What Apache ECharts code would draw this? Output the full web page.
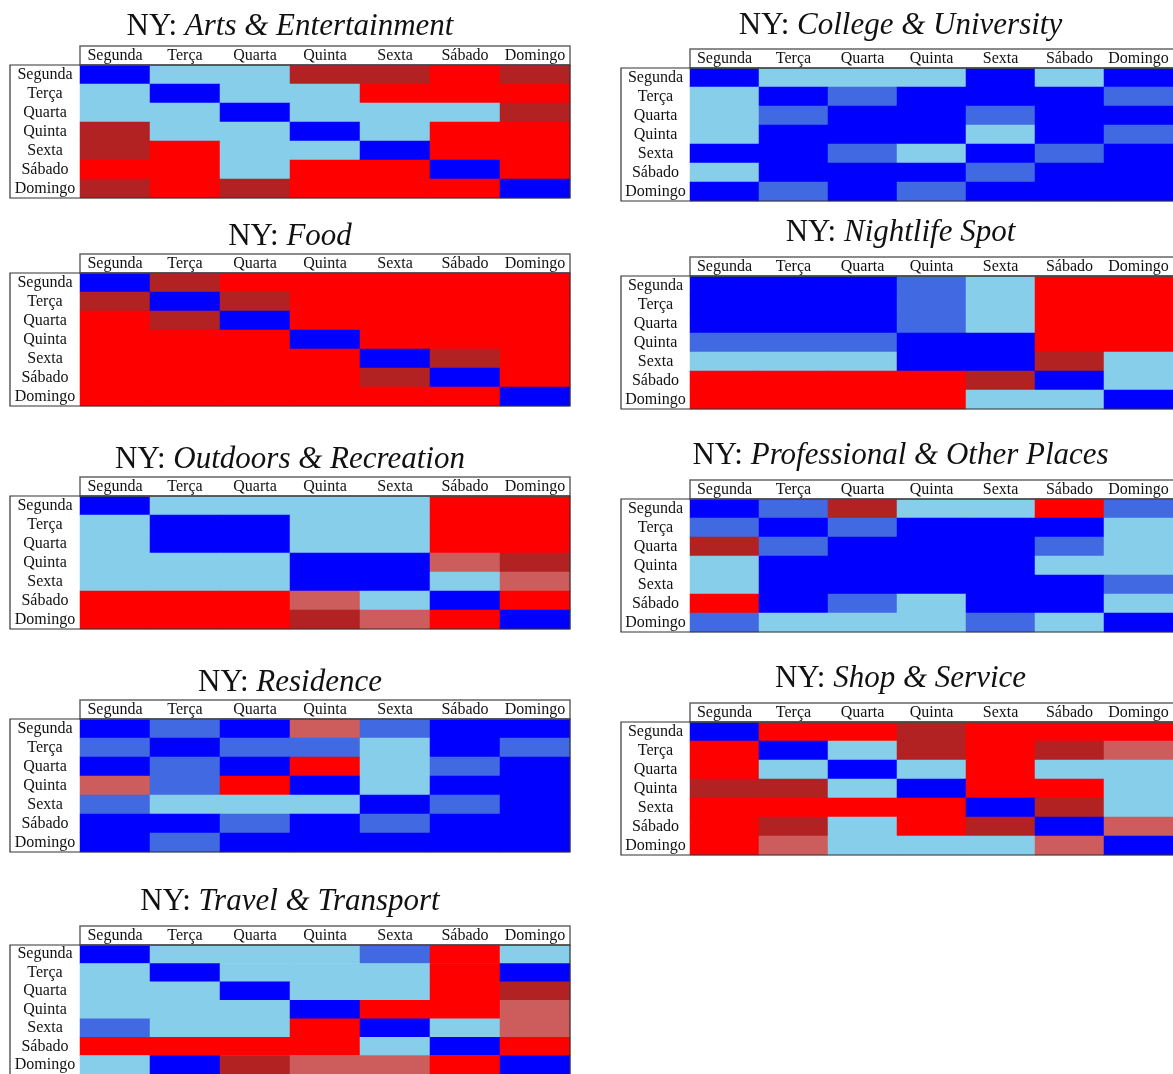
<!DOCTYPE html>
<html>
<head>
<meta charset="utf-8">
<script src="https://cdn.jsdelivr.net/npm/echarts@6/dist/echarts.min.js"></script>
<style>
  html, body { margin: 0; padding: 0; background: #fff; }
  #chart { width: 1173px; height: 1074px; }
</style>
</head>
<body>
<div id="chart"></div>
<script>
// Weekday labels shared by both axes of every matrix
const days = ['Segunda', 'Terça', 'Quarta', 'Quinta', 'Sexta', 'Sábado', 'Domingo'];

// Significance class of each day-pair comparison
// 0 = blue, 1 = royal blue, 2 = sky blue, 3 = indian red, 4 = firebrick, 5 = red
const levelColors = ['#0000FF', '#4169E1', '#87CEEB', '#CD5C5C', '#B22222', '#FF0000'];

const artsEntertainment = [
  [0, 2, 2, 4, 4, 5, 4],
  [2, 0, 2, 2, 5, 5, 5],
  [2, 2, 0, 2, 2, 2, 4],
  [4, 2, 2, 0, 2, 5, 5],
  [4, 5, 2, 2, 0, 5, 5],
  [5, 5, 2, 5, 5, 0, 5],
  [4, 5, 4, 5, 5, 5, 0]
];
const food = [
  [0, 4, 5, 5, 5, 5, 5],
  [4, 0, 4, 5, 5, 5, 5],
  [5, 4, 0, 5, 5, 5, 5],
  [5, 5, 5, 0, 5, 5, 5],
  [5, 5, 5, 5, 0, 4, 5],
  [5, 5, 5, 5, 4, 0, 5],
  [5, 5, 5, 5, 5, 5, 0]
];
const outdoorsRecreation = [
  [0, 2, 2, 2, 2, 5, 5],
  [2, 0, 0, 2, 2, 5, 5],
  [2, 0, 0, 2, 2, 5, 5],
  [2, 2, 2, 0, 0, 3, 4],
  [2, 2, 2, 0, 0, 2, 3],
  [5, 5, 5, 3, 2, 0, 5],
  [5, 5, 5, 4, 3, 5, 0]
];
const residence = [
  [0, 1, 0, 3, 1, 0, 0],
  [1, 0, 1, 1, 2, 0, 1],
  [0, 1, 0, 5, 2, 1, 0],
  [3, 1, 5, 0, 2, 0, 0],
  [1, 2, 2, 2, 0, 1, 0],
  [0, 0, 1, 0, 1, 0, 0],
  [0, 1, 0, 0, 0, 0, 0]
];
const travelTransport = [
  [0, 2, 2, 2, 1, 5, 2],
  [2, 0, 2, 2, 2, 5, 0],
  [2, 2, 0, 2, 2, 5, 4],
  [2, 2, 2, 0, 5, 5, 3],
  [1, 2, 2, 5, 0, 2, 3],
  [5, 5, 5, 5, 2, 0, 5],
  [2, 0, 4, 3, 3, 5, 0]
];
const collegeUniversity = [
  [0, 2, 2, 2, 0, 2, 0],
  [2, 0, 1, 0, 0, 0, 1],
  [2, 1, 0, 0, 1, 0, 0],
  [2, 0, 0, 0, 2, 0, 1],
  [0, 0, 1, 2, 0, 1, 0],
  [2, 0, 0, 0, 1, 0, 0],
  [0, 1, 0, 1, 0, 0, 0]
];
const nightlifeSpot = [
  [0, 0, 0, 1, 2, 5, 5],
  [0, 0, 0, 1, 2, 5, 5],
  [0, 0, 0, 1, 2, 5, 5],
  [1, 1, 1, 0, 0, 5, 5],
  [2, 2, 2, 0, 0, 4, 2],
  [5, 5, 5, 5, 4, 0, 2],
  [5, 5, 5, 5, 2, 2, 0]
];
const professionalOther = [
  [0, 1, 4, 2, 2, 5, 1],
  [1, 0, 1, 0, 0, 0, 2],
  [4, 1, 0, 0, 0, 1, 2],
  [2, 0, 0, 0, 0, 2, 2],
  [2, 0, 0, 0, 0, 0, 1],
  [5, 0, 1, 2, 0, 0, 2],
  [1, 2, 2, 2, 1, 2, 0]
];
const shopService = [
  [0, 5, 5, 4, 5, 5, 5],
  [5, 0, 2, 4, 5, 4, 3],
  [5, 2, 0, 2, 5, 2, 2],
  [4, 4, 2, 0, 5, 5, 2],
  [5, 5, 5, 5, 0, 4, 2],
  [5, 4, 2, 5, 4, 0, 3],
  [5, 3, 2, 2, 2, 3, 0]
];

const categoryNames = [
  'Arts & Entertainment', 'Food', 'Outdoors & Recreation', 'Residence', 'Travel & Transport',
  'College & University', 'Nightlife Spot', 'Professional & Other Places', 'Shop & Service'
];
const matrices = [
  artsEntertainment, food, outdoorsRecreation, residence, travelTransport,
  collegeUniversity, nightlifeSpot, professionalOther, shopService
];

// Page layout: column x-positions and, per panel, title centre and table top.
// Whole-pixel cells (70 x 19) keep neighbouring cells free of seams.
const FONT = '"Liberation Serif", "DejaVu Serif", serif';
const columns = [
  { labelLeft: 10, cellLeft: 80 },
  { labelLeft: 621, cellLeft: 690 }
];
const CELL_W = 490, CELL_H = 133, HEAD_H = 19;
const layout = [
  { col: 0, titleY: 27,  gridTop: 65 },
  { col: 0, titleY: 237, gridTop: 273 },
  { col: 0, titleY: 460, gridTop: 496 },
  { col: 0, titleY: 683, gridTop: 719 },
  { col: 0, titleY: 902, gridTop: 945 },
  { col: 1, titleY: 26,  gridTop: 68 },
  { col: 1, titleY: 233, gridTop: 276 },
  { col: 1, titleY: 456, gridTop: 499 },
  { col: 1, titleY: 679, gridTop: 722 }
];

const titles = [], grids = [], xAxes = [], yAxes = [], series = [], graphics = [];

matrices.forEach((m, i) => {
  const L = layout[i];
  const c = columns[L.col];
  const cx = (c.labelLeft + c.cellLeft + CELL_W) / 2;

  titles.push({
    text: '{r|NY: }{i|' + categoryNames[i] + '}',
    left: cx, top: L.titleY,
    textAlign: 'center', textVerticalAlign: 'middle',
    padding: 0,
    textStyle: {
      fontWeight: 'normal',
      rich: {
        r: { fontFamily: FONT, fontSize: 31, fontWeight: 'normal', color: '#111' },
        i: { fontFamily: FONT, fontSize: 31, fontWeight: 'normal', fontStyle: 'italic', color: '#111' }
      }
    }
  });

  grids.push({ left: c.cellLeft, top: L.gridTop, width: CELL_W, height: CELL_H });

  xAxes.push({
    type: 'category', gridIndex: i, data: days, position: 'top',
    axisLine: { show: false }, axisTick: { show: false }, splitLine: { show: false },
    axisLabel: { fontFamily: FONT, fontSize: 16, color: '#111', margin: 1, interval: 0 }
  });
  yAxes.push({
    type: 'category', gridIndex: i, data: days, inverse: true,
    axisLine: { show: false }, axisTick: { show: false }, splitLine: { show: false },
    axisLabel: {
      fontFamily: FONT, fontSize: 16, color: '#111', interval: 0,
      align: 'center', margin: (c.cellLeft - c.labelLeft) / 2
    }
  });

  const data = [];
  m.forEach((row, r) => row.forEach((v, k) => data.push([k, r, v])));
  series.push({
    type: 'heatmap', xAxisIndex: i, yAxisIndex: i, data,
    silent: true, itemStyle: { borderWidth: 0 }, emphasis: { disabled: true }
  });

  // table frame: header box, row-label box and cell outline
  graphics.push({
    type: 'rect', z: 100, silent: true,
    shape: { x: c.cellLeft, y: L.gridTop - HEAD_H, width: CELL_W, height: HEAD_H },
    style: { fill: 'none', stroke: '#666', lineWidth: 1.5 }
  });
  graphics.push({
    type: 'rect', z: 100, silent: true,
    shape: { x: c.labelLeft, y: L.gridTop, width: c.cellLeft - c.labelLeft + CELL_W, height: CELL_H },
    style: { fill: 'none', stroke: '#333', lineWidth: 1.2 }
  });
});

const chart = echarts.init(document.getElementById('chart'), null, { renderer: 'canvas' });
chart.setOption({
  backgroundColor: '#fff',
  animation: false,
  title: titles,
  grid: grids,
  xAxis: xAxes,
  yAxis: yAxes,
  visualMap: {
    type: 'piecewise', show: false, dimension: 2,
    seriesIndex: series.map((_, i) => i),
    pieces: levelColors.map((color, v) => ({ value: v, color }))
  },
  series,
  graphic: graphics
});
</script>
</body>
</html>
